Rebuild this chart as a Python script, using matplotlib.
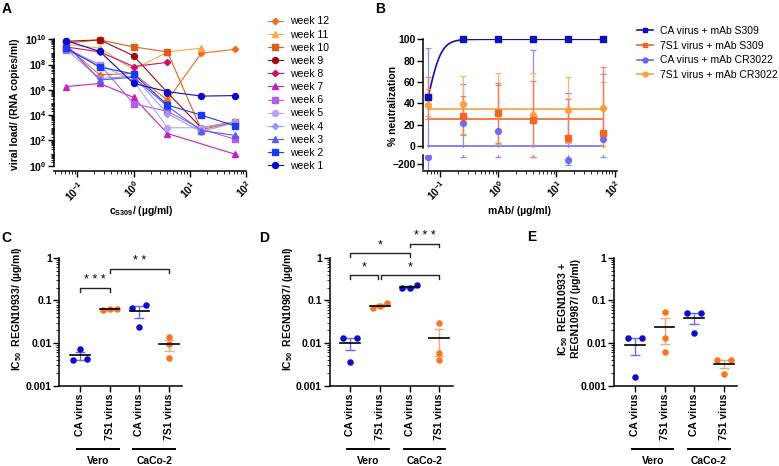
import numpy as np
import matplotlib
matplotlib.use('Agg')
import matplotlib.pyplot as plt
from matplotlib.ticker import FixedLocator, NullFormatter
from matplotlib.lines import Line2D

plt.rcParams['font.family'] = ['Liberation Sans', 'DejaVu Sans']
plt.rcParams['mathtext.fontset'] = 'custom'
plt.rcParams['mathtext.rm'] = 'Liberation Sans'
plt.rcParams['mathtext.bf'] = 'Liberation Sans:bold'
plt.rcParams['mathtext.it'] = 'Liberation Sans:italic'
plt.rcParams['mathtext.default'] = 'bf'

# ---------------- data: panel A ----------------
conc = [0.0625, 0.25, 1, 4, 16, 64]
week_labels = ['week 12', 'week 11', 'week 10', 'week 9', 'week 8', 'week 7',
               'week 6', 'week 5', 'week 4', 'week 3', 'week 2', 'week 1']
week12 = [3e9, 1.5e7, 2e7, 1.5e5, 8e8, 1.6e9]
week11 = [4e9, 2e9, 4e7, 1e9, 2e9, None]
week10 = [5e9, 9e9, 2.5e9, 1e9, 7e2, 2.8e3]
week9 = [7e9, 9e9, 5e8, 6e5, 1e3, 3e3]
week8 = [2.5e9, 1e9, 7e7, 1.5e8, None, None]
week7 = [1.8e6, 3.2e6, 2.5e5, 3.5e2, None, 8]
week6 = [1.4e9, 1e8, 8e4, 2e4, 8e2, 1.2e2]
week5 = [2e9, 1e8, 5e6, 1e3, 1e3, 3e3]
week4 = [1.6e9, 8e6, 1.2e7, 1.3e4, 5e2, 2.5e3]
week3 = [4e9, 6e6, 1e7, 5e4, 6e2, 2.5e2]
week2 = [2e9, 6.3e7, 1.8e7, 6.3e4, 1e4, 1.4e3]
week1 = [8e9, 1.1e9, 3.2e6, 7.2e5, 3.2e5, 3.5e5]
week_series = [week12, week11, week10, week9, week8, week7,
               week6, week5, week4, week3, week2, week1]
week_colors = ['#f26b1d', '#f9a94b', '#d9601a', '#a00a14', '#cc1166', '#c51fc5',
               '#b060e0', '#b4a4f8', '#9a9af0', '#5a5af0', '#1a3af5', '#0a0acc']
week_markers = ['D', '^', 's', 'o', 'D', '^', 's', 'o', 'D', '^', 's', 'o']
a_xticks = [0.1, 1, 10, 100]
a_xticklabels = [r'$10^{-1}$', r'$10^{0}$', r'$10^{1}$', r'$10^{2}$']
a_yticks = [1e0, 1e2, 1e4, 1e6, 1e8, 1e10]
a_yticklabels = [r'$10^{0}$', r'$10^{2}$', r'$10^{4}$', r'$10^{6}$', r'$10^{8}$', r'$10^{10}$']

# ---------------- data: panel B ----------------
concB = [0.0625, 0.25, 1, 4, 16, 64]
b_labels = ['CA virus + mAb S309', '7S1 virus + mAb S309',
            'CA virus + mAb CR3022', '7S1 virus + mAb CR3022']
ca_s309 = [46, 100, 100, 100, 100, 100]
s7_s309 = [45.6, 28, 30.6, 24.4, 7.2, 12.5]
s7_s309_low = [25, 10, 3, -125, 4, -5]
s7_s309_high = [65, 47, 59, 61, 44, 74]
ca_cr = [-120, 22, 14.4, 26, -150, 6.3]
ca_cr_low = [-300, -118, -122, -120, -215, -125]
ca_cr_high = [92, 58, 57, 90, 50, 67]
s7_cr = [38.4, 39.4, 33, 29, 33.8, 36]
s7_cr_low = [28, 11, 2, -3, 3, 0]
s7_cr_high = [53, 66, 68, 68, 65, 60]
s309_ic50, s309_hill = 0.065, 4.0
s7_s309_fit, ca_cr_fit, s7_cr_fit = 25, 0, 35

# ---------------- data: panels C-E ----------------
cats = ['CA virus', '7S1 virus', 'CA virus', '7S1 virus']
groups = ['Vero', 'CaCo-2']
regn10933 = [[0.0040, 0.0072, 0.0042], [0.059, 0.063, 0.063],
             [0.078, 0.024, 0.065], [0.014, 0.0095, 0.0045]]
regn10987 = [[0.0129, 0.0036, 0.0129], [0.065, 0.085, 0.074],
             [0.19, 0.23, 0.20], [0.030, 0.0059, 0.0040]]
cocktail = [[0.0129, 0.0016, 0.0129], [0.054, 0.0129, 0.0060],
            [0.051, 0.017, 0.051], [0.0039, 0.0019, 0.0039]]
sig_C = [(0, 1, 0.19, '* * *'), (1, 3, 0.53, '* *')]
sig_D = [(0, 1, 0.39, '*'), (1, 3, 0.39, '*'), (0, 2, 1.26, '*'), (2, 3, 2.1, '* * *')]
sig_E = []

BLUE, ORANGE = '#0d0dc8', '#f7751e'
BLUE_L, ORANGE_L = '#6a6aee', '#f8a577'

W, H = 779, 466
fig = plt.figure(figsize=(W / 100, H / 100), dpi=100)


def rect(l, t, r, b):
    return [l / W, 1 - b / H, (r - l) / W, (b - t) / H]


def ftext(x, y, s, **kw):
    fig.text(x / W, 1 - y / H, s, **kw)


def style_ticks(ax):
    ax.tick_params(which='major', length=4, width=1, labelsize=7.5, pad=1.5)
    ax.tick_params(which='minor', length=2, width=0.6)
    for lab in ax.get_xticklabels() + ax.get_yticklabels():
        lab.set_fontweight('bold')
    for s in ('top', 'right'):
        ax.spines[s].set_visible(False)
    for s in ('left', 'bottom'):
        ax.spines[s].set_linewidth(1.1)


def log_minors(lo_exp, hi_exp):
    return [m * 10.0 ** e for e in range(lo_exp, hi_exp) for m in range(2, 10)]

# ---------------- Panel A ----------------
axA = fig.add_axes(rect(54, 39.3, 246, 170.7))
for lab, vals, col, mk in zip(week_labels, week_series, week_colors, week_markers):
    xs = [c for c, v in zip(conc, vals) if v is not None]
    ys = [v for v in vals if v is not None]
    ms = 3.2 if mk == 'D' else 4.3
    axA.plot(xs, ys, color=col, marker=mk, ms=ms, lw=0.8, mec=col, mfc=col,
             label=lab, clip_on=False)
axA.set_xscale('log')
axA.set_yscale('log')
axA.set_xlim(0.0383, 100)
axA.set_ylim(10 ** -0.4, 1e10)
axA.spines['left'].set_bounds(1, 1e10)
axA.yaxis.set_major_locator(FixedLocator(a_yticks))
axA.set_yticklabels(a_yticklabels)
axA.yaxis.set_minor_locator(FixedLocator(log_minors(0, 10)))
axA.yaxis.set_minor_formatter(NullFormatter())
axA.xaxis.set_major_locator(FixedLocator(a_xticks))
axA.set_xticklabels(a_xticklabels, rotation=45, ha='right', rotation_mode='anchor')
axA.xaxis.set_minor_locator(FixedLocator([v for v in log_minors(-2, 2) if 0.0383 < v < 100]))
axA.xaxis.set_minor_formatter(NullFormatter())
style_ticks(axA)
leg = axA.legend(loc='upper left', bbox_to_anchor=(268 / W, 1 - 16.5 / H),
                 bbox_transform=fig.transFigure, frameon=False, fontsize=7.5,
                 handlelength=1.4, handletextpad=0.7, labelspacing=0.3,
                 borderpad=0, borderaxespad=0)
ftext(15, 104, 'viral load/ (RNA copies/ml)', rotation=90, ha='center', va='center',
      fontsize=7.5, fontweight='bold')
ftext(141, 211, r'c$_{\mathbf{S309}}$/ (µg/ml)', ha='center', va='center', fontsize=7.5,
      fontweight='bold')

# ---------------- Panel B ----------------
axB = fig.add_axes(rect(423, 39.3, 617, 148.1))
axB2 = fig.add_axes(rect(423, 155, 617, 170.5))
xfit = np.geomspace(concB[0], concB[-1], 300)
yfit = 100.0 / (1.0 + (s309_ic50 / xfit) ** s309_hill)
for ax in (axB, axB2):
    ax.plot(xfit, yfit, color='#1010b8', lw=1.2)
    ax.plot([concB[0], concB[-1]], [s7_s309_fit] * 2, color='#f26522', lw=1.2)
    ax.plot([concB[0], concB[-1]], [ca_cr_fit] * 2, color='#7070f5', lw=1.2)
    ax.plot([concB[0], concB[-1]], [s7_cr_fit] * 2, color='#f9a03f', lw=1.2)
    ax.errorbar(concB, ca_cr, yerr=[np.subtract(ca_cr, ca_cr_low), np.subtract(ca_cr_high, ca_cr)],
                fmt='o', color='#6464f5', ecolor='#8080f5', ms=4.2, capsize=2.5,
                elinewidth=0.9, capthick=0.9, alpha=0.9)
    ax.errorbar(concB, s7_cr, yerr=[np.subtract(s7_cr, s7_cr_low), np.subtract(s7_cr_high, s7_cr)],
                fmt='o', color='#f9a03f', ecolor='#f9b060', ms=4.2, capsize=2.5,
                elinewidth=0.9, capthick=0.9)
    ax.errorbar(concB, s7_s309, yerr=[np.subtract(s7_s309, s7_s309_low),
                                      np.subtract(s7_s309_high, s7_s309)],
                fmt='s', color='#f26522', ecolor='#f48050', ms=3.8, capsize=2.5,
                elinewidth=0.9, capthick=0.9)
    ax.set_xscale('log')
    ax.set_xlim(0.051, 110)
    ax.xaxis.set_minor_locator(FixedLocator([v for v in log_minors(-2, 2) if 0.051 < v < 110]))
    ax.xaxis.set_minor_formatter(NullFormatter())
axB.plot(concB, ca_s309, 's', color='#1010b8', ms=4.0, clip_on=False, zorder=5)
axB.set_ylim(-2, 100)
axB.set_yticks([0, 20, 40, 60, 80, 100])
axB.spines['bottom'].set_visible(False)
axB.tick_params(axis='x', which='both', bottom=False, labelbottom=False)
axB2.set_ylim(-270, -100)
axB2.spines['left'].set_bounds(-250, -100)
axB2.set_yticks([-200])
axB2.xaxis.set_major_locator(FixedLocator(a_xticks))
axB2.set_xticklabels(a_xticklabels, rotation=45, ha='right', rotation_mode='anchor')
style_ticks(axB)
style_ticks(axB2)
b_handles = [Line2D([0], [0], color='#1010b8', marker='s', ms=3.5, lw=1.2),
             Line2D([0], [0], color='#f26522', marker='s', ms=3.5, lw=1.2),
             Line2D([0], [0], color='#6464f5', marker='o', ms=3.5, lw=1.2),
             Line2D([0], [0], color='#f9a03f', marker='o', ms=3.5, lw=1.2)]
fig.legend(b_handles, b_labels, loc='upper left', bbox_to_anchor=(637 / W, 1 - 26 / H),
           frameon=False, fontsize=7.5, handlelength=1.5, handletextpad=0.7,
           labelspacing=0.45, borderpad=0, borderaxespad=0)
ftext(393, 106, '% neutralization', rotation=90, ha='center', va='center',
      fontsize=7.5, fontweight='bold')
ftext(520, 211, 'mAb/ (µg/ml)', ha='center', va='center', fontsize=7.5, fontweight='bold')


# ---------------- Panels C-E ----------------
def beeswarm_offsets(vals, step=0.24, thr=0.15):
    order = np.argsort(np.log10(vals))
    offs = np.zeros(len(vals))
    rows, cur = [], [order[0]]
    for idx in order[1:]:
        if np.log10(vals[idx]) - np.log10(vals[cur[0]]) < thr:
            cur.append(idx)
        else:
            rows.append(cur)
            cur = [idx]
    rows.append(cur)
    for row in rows:
        n = len(row)
        if n == 2:
            pos = [-step, step]
        elif n == 3:
            pos = [-step, 0, step]
        else:
            pos = [0]
        for p, idx in zip(pos, row):
            offs[idx] = p
    return offs


def ic50_panel(left, data, sig, ylabel_lines, ylabel_x):
    ax = fig.add_axes(rect(left, 257.7, left + 123, 385.7))
    for i, vals in enumerate(data):
        col = BLUE if i % 2 == 0 else ORANGE
        ecol = BLUE_L if i % 2 == 0 else ORANGE_L
        offs = beeswarm_offsets(vals)
        ax.scatter(i + offs, vals, s=22, color=col, zorder=3, linewidths=0, clip_on=False)
        m = np.mean(vals)
        sem = np.std(vals, ddof=1) / np.sqrt(len(vals))
        ax.errorbar([i], [m], yerr=[[sem], [sem]], fmt='none', ecolor=ecol,
                    elinewidth=1.0, capsize=3.5, capthick=1.0, zorder=2)
        ax.plot([i - 0.33, i + 0.33], [m, m], color='black', lw=1.2, zorder=4)
    ax.set_yscale('log')
    ax.set_ylim(0.001, 1)
    ax.set_xlim(-0.7, 3.45)
    ax.yaxis.set_major_locator(FixedLocator([0.001, 0.01, 0.1, 1]))
    ax.set_yticklabels(['0.001', '0.01', '0.1', '1'])
    ax.yaxis.set_minor_locator(FixedLocator(log_minors(-3, 0)))
    ax.yaxis.set_minor_formatter(NullFormatter())
    ax.set_xticks(range(4))
    ax.set_xticklabels(cats, rotation=90)
    style_ticks(ax)
    for (i, j, y, txt) in sig:
        x0 = i + (0.05 if any(s[1] == i and s[2] == y for s in sig) else 0)
        x1 = j - (0.05 if any(s[0] == j and s[2] == y for s in sig) else 0)
        ylow = y / 10 ** 0.08
        ax.plot([x0, x0, x1, x1], [ylow, y, y, ylow], color='#222222', lw=1.0,
                clip_on=False)
        ax.text((x0 + x1) / 2, y * 10 ** 0.05, txt, ha='center', va='bottom',
                fontsize=9, clip_on=False)
    trans = ax.get_xaxis_transform()
    for g, (a, b) in zip(groups, [(-0.1, 1.3), (1.8, 3.2)]):
        ax.plot([a, b], [-0.495, -0.495], color='black', lw=1.4, transform=trans,
                clip_on=False)
        ax.text((a + b) / 2, -0.585, g, transform=trans, ha='center', va='center',
                fontsize=7.5, fontweight='bold')
    ftext(ylabel_x, 309, ylabel_lines, rotation=90, ha='center', va='center',
          fontsize=7.5, fontweight='bold', linespacing=1.1)
    return ax


ic50_panel(59.3, regn10933, sig_C, r'IC$_{50}$  REGN10933/ (µg/ml)', 17)
ic50_panel(329.5, regn10987, sig_D, r'IC$_{50}$  REGN10987/ (µg/ml)', 288)
ic50_panel(614.2, cocktail, sig_E, 'IC$_{50}$  REGN10933 +\nREGN10987/ (µg/ml)', 569)

# panel letters
for letter, (x, y) in zip('ABCDE', [(7, 9), (380, 9), (6, 238), (264, 238), (532, 237)]):
    ftext(x, y, letter, ha='center', va='center', fontsize=10, fontweight='bold')

fig.savefig('out.png', dpi=100)
